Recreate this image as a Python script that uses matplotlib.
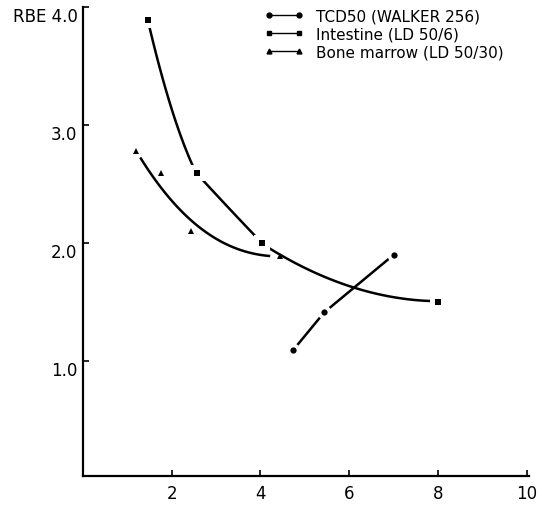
import numpy as np
import matplotlib
matplotlib.use("Agg")
import matplotlib.pyplot as plt
from matplotlib.lines import Line2D

# ---- data ----
tcd_x = [4.74, 5.44, 7.01]
tcd_y = [1.09, 1.41, 1.90]
int_x = [1.46, 2.56, 4.03, 8.00]
int_y = [3.89, 2.59, 2.00, 1.50]
bm_x = [1.19, 1.75, 2.43, 4.44]
bm_y = [2.78, 2.59, 2.10, 1.89]

# hand-drawn guide curves, one list per drawn stroke
int_stroke1_x = [1.46, 1.89, 2.25, 2.56]
int_stroke1_y = [3.89, 3.28, 2.85, 2.59]
int_stroke2_x = [2.56, 3.30, 4.03]
int_stroke2_y = [2.59, 2.29, 2.00]
int_stroke3_x = [4.03, 4.97, 6.09, 6.85, 7.75, 8.00]
int_stroke3_y = [2.00, 1.78, 1.63, 1.55, 1.51, 1.50]
bm_stroke_x = [1.29, 1.66, 2.05, 2.45, 2.94, 3.31, 3.69, 4.22]
bm_stroke_y = [2.73, 2.51, 2.33, 2.20, 2.05, 1.97, 1.92, 1.89]

x_ticks = [2, 4, 6, 8, 10]
x_labels = ["2", "4", "6", "8", "10"]
y_ticks = [1.0, 2.0, 3.0, 4.0]
y_labels = ["1.0", "2.0", "3.0", "RBE 4.0"]
labels = ["TCD50 (WALKER 256)", "Intestine (LD 50/6)", "Bone marrow (LD 50/30)"]


def stroke(ax, xs, ys, deg):
    deg = min(deg, len(xs) - 1)
    c = np.polyfit(xs, ys, deg)
    sx = np.linspace(min(xs), max(xs), 120)
    ax.plot(sx, np.polyval(c, sx), color='black', lw=1.8,
            solid_capstyle='butt', zorder=2)


plt.rcParams['font.family'] = ['DejaVu Sans']
fig = plt.figure(figsize=(5.37, 5.06), dpi=100)
ax = fig.add_axes([0.1546, 0.0573, 0.83, 0.9263])

stroke(ax, int_stroke1_x, int_stroke1_y, 2)
stroke(ax, int_stroke2_x, int_stroke2_y, 2)
stroke(ax, int_stroke3_x, int_stroke3_y, 2)
stroke(ax, bm_stroke_x, bm_stroke_y, 3)
for i in range(len(tcd_x) - 1):
    stroke(ax, tcd_x[i:i + 2], tcd_y[i:i + 2], 1)

# white halos to produce the gaps around the markers
ax.plot(int_x, int_y, 's', color='white', ms=11, zorder=3, markeredgewidth=0)
ax.plot(tcd_x, tcd_y, 'o', color='white', ms=10, zorder=3, markeredgewidth=0)

ax.plot(int_x, int_y, 's', color='black', ms=4.5, zorder=4, markeredgewidth=0)
ax.plot(tcd_x, tcd_y, 'o', color='black', ms=4.5, zorder=4, markeredgewidth=0)
ax.plot(bm_x, bm_y, '^', color='black', ms=4.2, zorder=4, markeredgewidth=0)

ax.set_xlim(0.0, 10.05)
ax.set_ylim(0.02, 4.0)
for s in ['top', 'right']:
    ax.spines[s].set_visible(False)
for s in ['left', 'bottom']:
    ax.spines[s].set_linewidth(1.6)

ax.set_xticks(x_ticks)
ax.set_xticklabels(x_labels, fontsize=12)
ax.set_yticks(y_ticks)
ax.set_yticklabels(y_labels, fontsize=12)
for lab in ax.get_yticklabels():
    lab.set_va('top')
ax.tick_params(axis='both', direction='in', length=4, width=1.2)
ax.tick_params(axis='x', pad=6)
ax.tick_params(axis='y', pad=4)

handles = [
    Line2D([], [], color='black', lw=1.0, marker='o', ms=3.5),
    Line2D([], [], color='black', lw=1.0, marker='s', ms=3.5),
    Line2D([], [], color='black', lw=1.0, marker='^', ms=3.5),
]
leg = fig.legend(handles, labels, loc='upper left', bbox_to_anchor=(0.478, 0.997),
                 frameon=False, numpoints=2, handlelength=2.6, handletextpad=0.8,
                 labelspacing=0.2, borderpad=0, fontsize=11)

fig.savefig('out.png', dpi=100)
